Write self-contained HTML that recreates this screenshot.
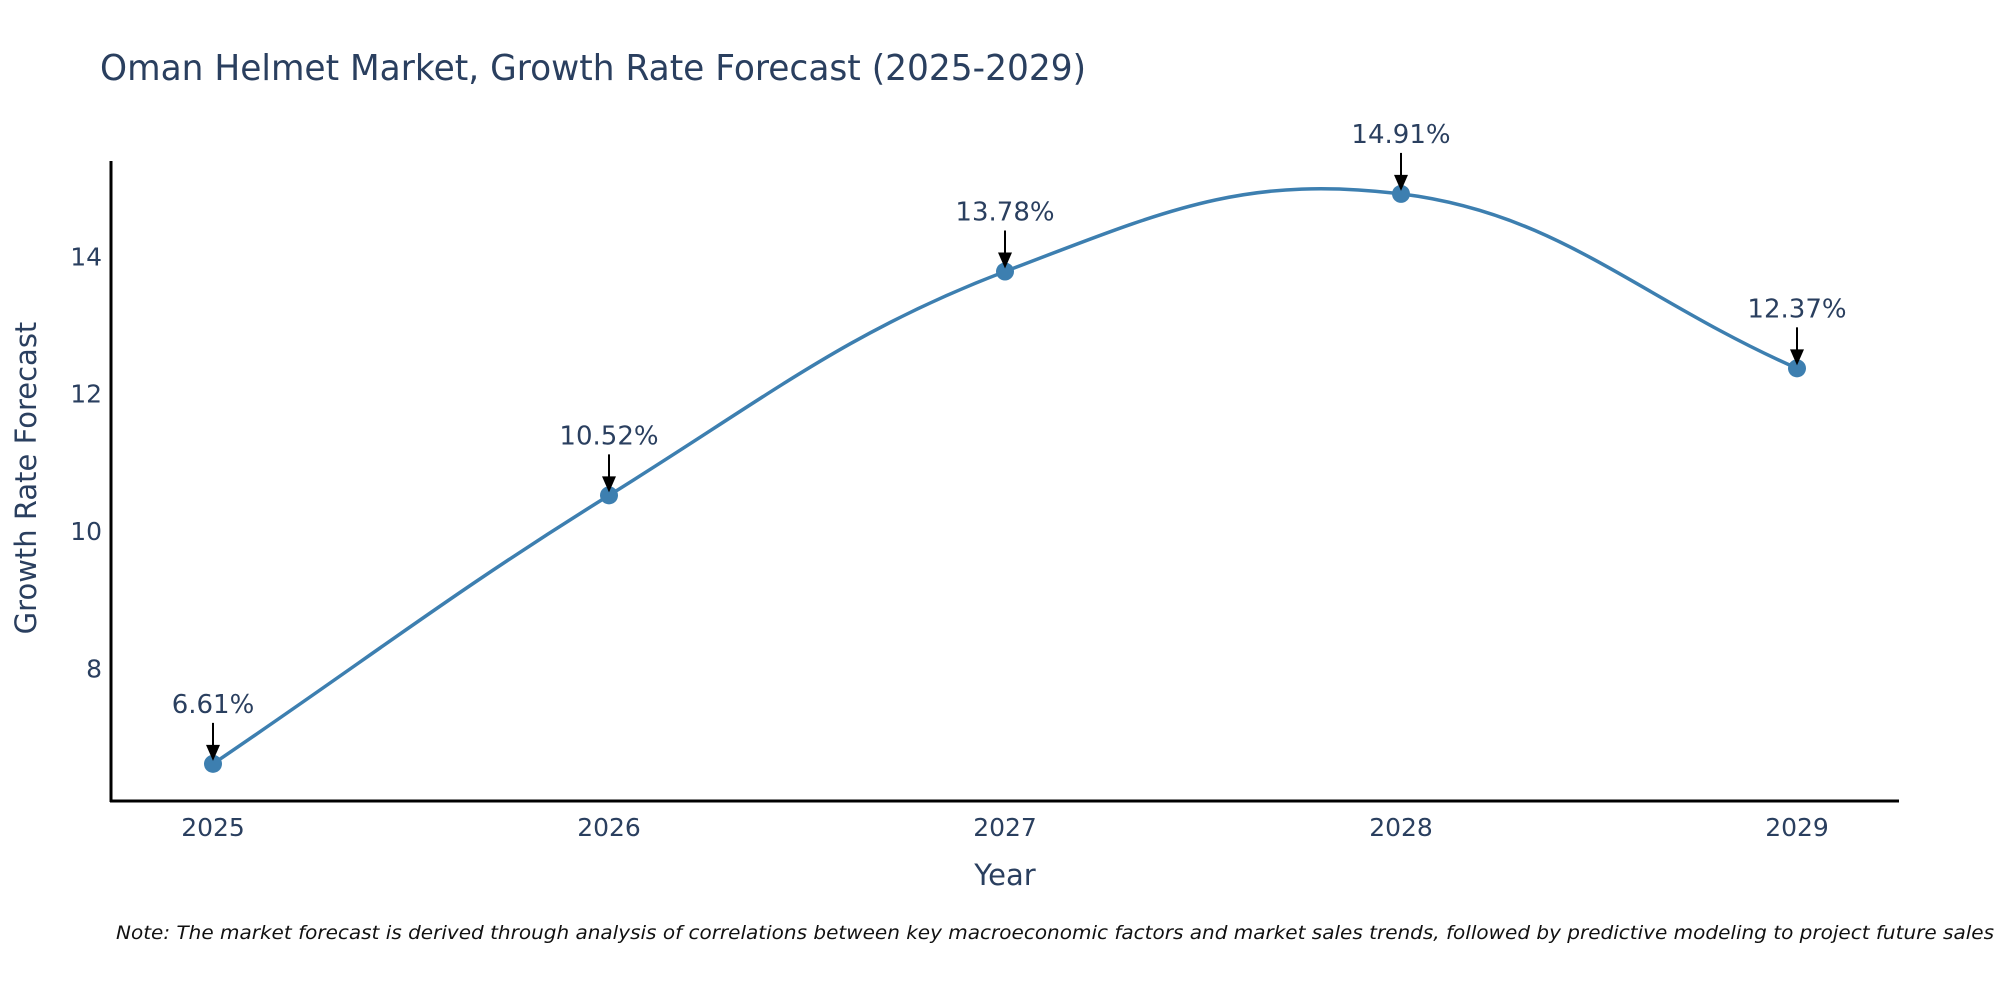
<!DOCTYPE html>
<html><head><meta charset="utf-8"><style>
html,body{margin:0;padding:0;background:#fff;}
svg{display:block;font-family:"DejaVu Sans","Liberation Sans",sans-serif;}
</style></head><body>
<svg id="chart" width="2000" height="1000" viewBox="0 0 2000 1000">
<text x="100" y="80" font-size="36" fill="#2a3f5f" textLength="986" lengthAdjust="spacingAndGlyphs">Oman Helmet Market, Growth Rate Forecast (2025-2029)</text>
<g id="yticks"></g>
<g id="xticks"></g>
<line x1="111" y1="161" x2="111" y2="802" stroke="#000" stroke-width="3"/>
<line x1="110" y1="801" x2="1899" y2="801" stroke="#000" stroke-width="3"/>
<path id="series" fill="none" stroke="#3d7fb0" stroke-width="3.5"/>
<g id="points"></g>
<g id="annots"></g>
<text x="26" y="478" font-size="29" fill="#2a3f5f" text-anchor="middle" transform="rotate(-90 26 478)" dominant-baseline="central">Growth Rate Forecast</text>
<text x="1005" y="885" font-size="29" fill="#2a3f5f" text-anchor="middle">Year</text>
<text x="116" y="939" font-size="19" font-style="italic" fill="#111" textLength="1878" lengthAdjust="spacingAndGlyphs">Note: The market forecast is derived through analysis of correlations between key macroeconomic factors and market sales trends, followed by predictive modeling to project future sales</text>
</svg>
<script>
const categories = ["2025","2026","2027","2028","2029"];
const values = [6.61, 10.52, 13.78, 14.91, 12.37];
const yTicks = [8, 10, 12, 14];
const NS = "http://www.w3.org/2000/svg";
function xPos(i){ return 213 + i * (1797 - 213) / (categories.length - 1); }
function yPos(v){ return 256.4 + (14 - v) * 68.67; }
const yt = document.getElementById('yticks');
yTicks.forEach(t => {
  const el = document.createElementNS(NS, 'text');
  
  
  el.setAttribute('x', 102); el.setAttribute('y', yPos(t) + 9);
  el.setAttribute('font-size', '25'); el.setAttribute('fill', '#2a3f5f');
  el.setAttribute('text-anchor', 'end');
  el.textContent = t; yt.appendChild(el);
});
const xt = document.getElementById('xticks');
categories.forEach((c, i) => {
  const el = document.createElementNS(NS, 'text');
  
  
  el.setAttribute('x', xPos(i)); el.setAttribute('y', 836);
  el.setAttribute('font-size', '25'); el.setAttribute('fill', '#2a3f5f');
  el.setAttribute('text-anchor', 'middle');
  el.textContent = c; xt.appendChild(el);
});
const P = values.map((v, i) => [xPos(i), yPos(v)]);
let d = `M${P[0][0]},${P[0][1]}`;
const s = 0.2;
for (let i = 0; i < P.length - 1; i++) {
  const p0 = P[Math.max(0, i - 1)], p1 = P[i], p2 = P[i + 1], p3 = P[Math.min(P.length - 1, i + 2)];
  const k1 = i === 0 ? 2 : 1, k2 = i === P.length - 2 ? 2 : 1;
  const c1 = [p1[0] + (p2[0] - p0[0]) * s * k1, p1[1] + (p2[1] - p0[1]) * s * k1];
  const c2 = [p2[0] - (p3[0] - p1[0]) * s * k2, p2[1] - (p3[1] - p1[1]) * s * k2];
  d += ` C${c1[0]},${c1[1]} ${c2[0]},${c2[1]} ${p2[0]},${p2[1]}`;
}
document.getElementById('series').setAttribute('d', d);
const pts = document.getElementById('points');
const an = document.getElementById('annots');
values.forEach((v, i) => {
  const cx = xPos(i), cy = yPos(v);
  const c = document.createElementNS(NS, 'circle');
  
  
  c.setAttribute('cx', cx); c.setAttribute('cy', cy); c.setAttribute('r', 9);
  c.setAttribute('fill', '#3d7fb0'); pts.appendChild(c);
  const l = document.createElementNS(NS, 'line');
  
  
  l.setAttribute('x1', cx); l.setAttribute('x2', cx);
  l.setAttribute('y1', cy - 41); l.setAttribute('y2', cy - 14);
  l.setAttribute('stroke', '#000'); l.setAttribute('stroke-width', '2');
  an.appendChild(l);
  const h = document.createElementNS(NS, 'polygon');
  
  
  h.setAttribute('points', `${cx - 7},${cy - 19} ${cx + 7},${cy - 19} ${cx},${cy - 3}`);
  h.setAttribute('fill', '#000'); an.appendChild(h);
  const t = document.createElementNS(NS, 'text');
  
  
  t.setAttribute('x', cx); t.setAttribute('y', cy - 51);
  t.setAttribute('font-size', '26'); t.setAttribute('fill', '#2a3f5f');
  t.setAttribute('text-anchor', 'middle');
  t.textContent = v.toFixed(2) + '%'; an.appendChild(t);
});
</script>
</body></html>
